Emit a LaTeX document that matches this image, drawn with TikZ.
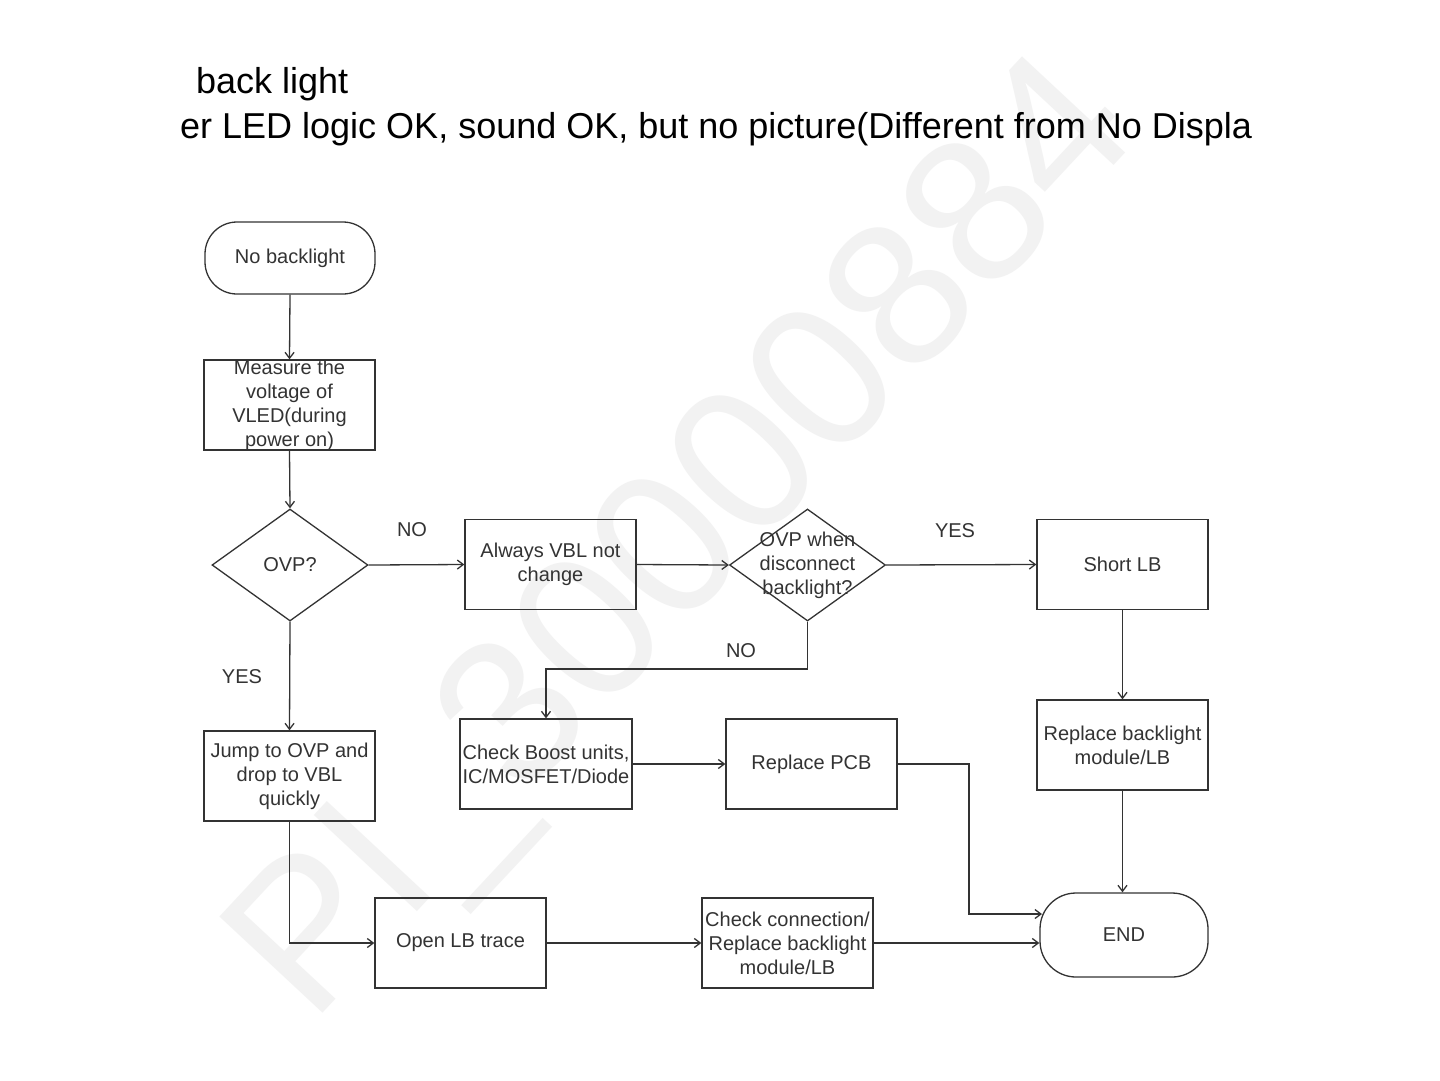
\documentclass[tikz,border=0pt]{standalone}
\usepackage{fontspec}
\setmainfont{Liberation Sans}
\usetikzlibrary{shapes.geometric,arrows.meta}
\definecolor{ink}{HTML}{333333}
\definecolor{wmgray}{HTML}{F2F2F2}
\begin{document}
\begin{tikzpicture}[x=1pt,y=-1pt,
  every node/.style={text=ink},
  box/.style={draw=ink,line width=1.3pt,rectangle,minimum width=171pt,minimum height=90pt,inner sep=0pt,align=center,font=\fontsize{20}{24}\selectfont},
  term/.style={draw=ink,line width=1.3pt,rectangle,rounded corners=32pt,inner sep=0pt,align=center,font=\fontsize{20}{24}\selectfont},
  decide/.style={draw=ink,line width=1.3pt,diamond,minimum width=156pt,minimum height=112pt,inner sep=0pt},
  inlabel/.style={align=center,inner sep=0pt,font=\fontsize{20}{24}\selectfont,text=ink},
  lab/.style={inner sep=0pt,font=\fontsize{20}{24}\selectfont,text=ink},
  conn/.style={draw=ink,line width=1.3pt,-{Straight Barb[length=6pt,width=9pt]}},
  plain/.style={draw=ink,line width=1.3pt}]
\useasboundingbox (0,0) rectangle (1440,1080);
\fill[white] (0,0) rectangle (1440,1080);
% watermark
\node[rotate=47,text=wmgray,font=\fontsize{205}{205}\selectfont,inner sep=0pt] (wm) at (690,545) {PI\_30000884};
% title
\node[anchor=base west,inner sep=0pt,text=black,font=\fontsize{36}{40}\selectfont] (t1) at (196,93) {back light};
\node[anchor=base west,inner sep=0pt,text=black,font=\fontsize{36}{40}\selectfont] (t2) at (180,138) {er LED logic OK, sound OK, but no picture(Different from No Displa};
% nodes
\node[term,minimum width=170pt,minimum height=72pt] (start) at (290,258) {No backlight};
\node[box,label={[inlabel]center:Measure the\\voltage of\\VLED(during\\power on)}] (measure) at (289.5,405) {};
\node[decide,label={[inlabel]center:OVP?}] (ovp1) at (290,565) {};
\node[box] (always) at (550.5,564.5) {Always VBL not\\change};
\node[decide,label={[inlabel]center:OVP when\\disconnect\\backlight?}] (ovp2) at (807.5,565) {};
\node[box] (short) at (1122.5,564.5) {Short LB};
\node[box] (replbl) at (1122.5,745) {Replace backlight\\module/LB};
\node[box,minimum width=172pt] (boost) at (546,764) {Check Boost units,\\IC/MOSFET/Diode};
\node[box] (pcb) at (811.5,764) {Replace PCB};
\node[box] (jump) at (289.5,776) {Jump to OVP and\\drop to VBL\\quickly};
\node[box] (openlb) at (460.5,943) {Open LB trace};
\node[box] (checkconn) at (787.5,943) {Check connection/\\Replace backlight\\module/LB};
\node[term,minimum width=168pt,minimum height=84pt,rounded corners=36pt] (end) at (1124,935) {END};
% labels
\node[lab] (lno1) at (412,530) {NO};
\node[lab] (lyes1) at (955,531) {YES};
\node[lab] (lno2) at (741,651) {NO};
\node[lab] (lyes2) at (242,677) {YES};
% helper coordinates
\coordinate (nobend) at (546,669);
\coordinate (pcbbend) at (969,764);
\coordinate (pcbin) at (1042,914);
% connectors
\draw[conn] (start.south) -- (measure.north);
\draw[conn] (measure.south) -- (ovp1.north);
\draw[conn] (ovp1.east) -- (always.west);
\draw[conn] (always.east) -- (ovp2.west);
\draw[conn] (ovp2.east) -- (short.west);
\draw[conn] (ovp2.south) |- (nobend) -- (boost.north);
\draw[conn] (ovp1.south) -- (jump.north);
\draw[conn] (jump.south) |- (openlb.west);
\draw[conn] (openlb.east) -- (checkconn.west);
\draw[conn] (checkconn.east) -- (checkconn.east -| end.west);
\draw[conn] (boost.east) -- (pcb.west);
\draw[conn] (pcb.east) -- (pcbbend) |- (pcbin);
\draw[conn] (short.south) -- (replbl.north);
\draw[conn] (replbl.south) -- (replbl.south |- end.north);
\end{tikzpicture}
\end{document}
